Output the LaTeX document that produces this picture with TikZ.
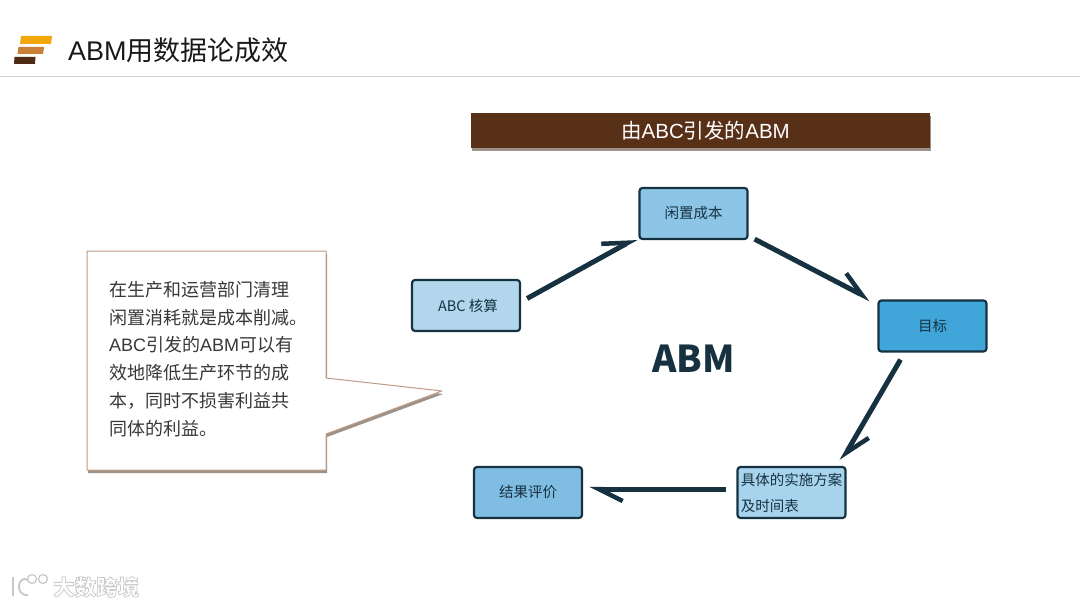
\documentclass[tikz,border=0pt]{standalone}
\usepackage{fontspec}
\setmainfont{Noto Sans CJK SC}
\newfontfamily\latin{Liberation Sans}
\usetikzlibrary{arrows.meta,shadows}
\definecolor{inkteal}{RGB}{22,50,64}
\definecolor{banner}{RGB}{88,48,24}
\definecolor{tan}{RGB}{190,155,130}
\definecolor{boxa}{RGB}{178,215,236}
\definecolor{boxb}{RGB}{140,197,230}
\definecolor{boxc}{RGB}{64,165,216}
\definecolor{boxd}{RGB}{168,211,236}
\definecolor{boxe}{RGB}{128,189,226}
\tikzset{
  flowbox/.style={draw=inkteal,line width=2.2pt,rounded corners=3pt,minimum width=108pt,minimum height=51pt,
    inner sep=2pt,text=inkteal,font=\fontsize{14.5}{26}\selectfont},
  flowarrow/.style={draw=inkteal,line width=5pt,-{Straight Barb[harpoon,length=24pt,width=24pt,line width=4.5pt]}},
  softshadow/.style={drop shadow={shadow xshift=1pt,shadow yshift=-3pt,opacity=0.5,fill=black!70!brown}}
}
\begin{document}
\begin{tikzpicture}[x=1pt,y=-1pt,line join=round]
  \useasboundingbox (0,0) rectangle (1080,607);
  % header
  \fill[orange!60!yellow!80!brown] (21,36) -- (52,36) -- (51,44) -- (20,44) -- cycle;
  \fill[brown!85!orange] (18.5,47) -- (44,47) -- (43,54) -- (17.5,54) -- cycle;
  \fill[banner!90!black] (14.5,57) -- (35.5,57) -- (35,64) -- (14,64) -- cycle;
  \node[anchor=west,inner sep=0pt,font=\fontsize{27}{30}\selectfont,text=black!90] (title) at (68,50.5) {{\latin ABM}用数据论成效};
  \draw[black!18,line width=1pt] (0,77) -- (1080,77);
  % banner
  \node[fill=banner,minimum width=459pt,minimum height=35pt,inner sep=0pt,text=white,font=\fontsize{20.5}{24}\selectfont,
    softshadow] (head) at (700.5,130.5) {\hspace*{10pt}由{\latin ABC}引发的{\latin ABM}};
  % cycle
  \node[flowbox,fill=boxa] (abc) at (466,305.5) {\hspace*{4pt}ABC 核算};
  \node[flowbox,fill=boxb] (idle) at (693.5,213.5) {闲置成本};
  \node[flowbox,fill=boxc] (target) at (932.5,326) {目标};
  \node[flowbox,fill=boxd,align=left] (plan) at (791.5,492.5) {具体的实施方案\\及时间表};
  \node[flowbox,fill=boxe] (result) at (528,492.5) {结果评价};
  \node[text=inkteal,inner sep=0pt,font=\fontsize{37}{40}\selectfont\bfseries] (abm) at (693.5,359) {ABM};
  \draw[flowarrow] ([shift={(6,-7)}]abc.east) -- ([shift={(-2,-2)}]idle.south west);
  \draw[flowarrow] ([shift={(6,-1)}]idle.south east) -- ([shift={(-7,0)}]target.north west);
  \draw[flowarrow] ([shift={(-32,7)}]target.south) -- ([shift={(50,-5)}]plan.north);
  \draw[flowarrow] ([shift={(-10,-3.5)}]plan.west) -- ([shift={(6,-3.5)}]result.east);
  % callout
  \path[fill=white,draw=tan,line width=1pt,softshadow] (87,251) -- (326,251) -- (326,378) -- (442,391) -- (326,434) -- (326,470) -- (87,470) -- cycle;
  \node[anchor=north west,inner sep=0pt,align=left,text=black!78,font=\fontsize{18}{27.8}\selectfont] (note) at (109,281)
    {在生产和运营部门清理\\闲置消耗就是成本削减。\\{\latin ABC}引发的{\latin ABM}可以有\\效地降低生产环节的成\\本，同时不损害利益共\\同体的利益。};
  % watermark
  \draw[black!22,line width=1.8pt] (13,577) -- (13,596) (28,580) .. controls (18,574) and (14,596) .. (28,595);
  \draw[black!22,line width=1.2pt] (32,579) circle (4.5) (43,579) circle (4.5);
  \node[anchor=west,inner sep=0pt,font=\fontsize{21.5}{24}\selectfont\bfseries] (mark) at (53,587)
    {\special{pdf:code q 2 Tr 0.8 w 0.8 0.8 0.8 RG 1 1 1 rg}大数跨境\special{pdf:code Q}};
\end{tikzpicture}
\end{document}
